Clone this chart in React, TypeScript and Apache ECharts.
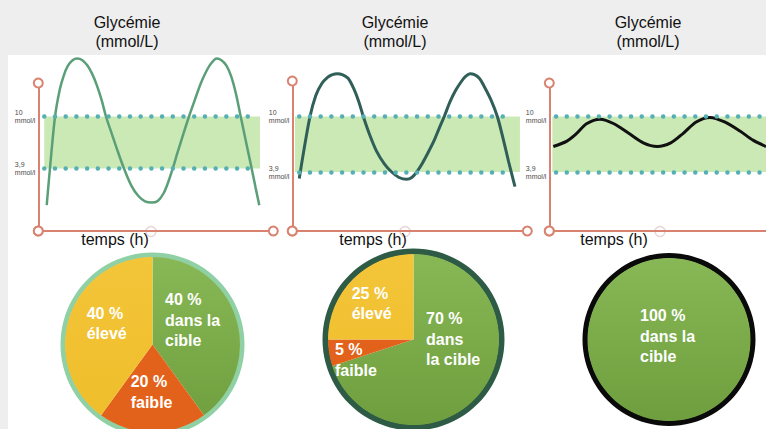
import React, { useEffect, useRef } from "react";
import * as echarts from "echarts";

// ---------- DATA ----------
// Glycemia curves: [time (h), glycemia (mmol/L)]
const curveHigh: number[][] = [
  [0.86, -0.4], [1.19, 3.9], [1.71, 10], [2.2, 13.2], [2.6, 14.8], [3.0, 15.9], [3.5, 16.6], [3.98, 16.8],
  [4.5, 16.6], [5.0, 16.0], [5.5, 15.0], [6.0, 13.6], [6.5, 11.8], [6.91, 10], [7.5, 8.0], [8.0, 6.3],
  [8.75, 3.9], [9.5, 1.9], [10.2, 0.7], [10.9, 0.05], [11.58, -0.1],
  [12.2, 0.1], [12.8, 1.0], [13.3, 2.4], [13.73, 3.9], [14.2, 5.7], [14.8, 7.9], [15.39, 10], [16.0, 12.0],
  [16.6, 13.9], [17.2, 15.4], [17.7, 16.3], [18.22, 16.8],
  [18.7, 16.6], [19.2, 16.0], [19.7, 14.7], [20.2, 12.6], [20.67, 10], [21.2, 7.1], [21.79, 3.9], [22.2, 1.6], [22.57, -0.4],
];
const curveMid: number[][] = [
  [0.71, 3.2], [1.2, 6.4], [1.81, 10], [2.4, 12.3], [3.0, 13.6], [3.6, 14.3], [4.1, 14.6], [4.6, 14.7],
  [5.1, 14.6], [5.7, 14.2], [6.3, 13.0], [6.8, 11.6], [7.25, 10], [7.9, 8.0], [8.6, 6.2], [9.4, 4.8],
  [10.15, 3.9], [10.9, 3.3], [11.68, 3.1],
  [12.2, 3.3], [12.7, 3.9], [13.3, 4.9], [13.9, 6.1], [14.5, 7.4], [15.0, 8.7], [15.52, 10], [16.1, 11.6],
  [16.7, 12.9], [17.3, 13.9], [17.7, 14.4], [18.15, 14.7],
  [18.6, 14.6], [19.1, 14.2], [19.6, 13.3], [20.3, 11.8], [20.94, 10], [21.5, 7.7], [22.1, 5.0], [22.74, 2.3],
];
const curveLow: number[][] = [
  [0.41, 6.7], [1.8, 7.3], [2.8, 8.15], [3.8, 9.2], [5.18, 9.7], [6.6, 9.2], [8.11, 8.15], [9.6, 7.1],
  [11.03, 6.7], [12.4, 7.1], [13.68, 8.15], [15.0, 9.4], [16.41, 9.9], [17.9, 9.4], [19.47, 8.4],
  [20.8, 7.4], [22.13, 6.7],
];
const targetLow = 3.9;
const targetHigh = 10;
const yTickValues = [3.9, 10];
const yTickLabels = ["3,9\nmmol/l", "10\nmmol/l"];
const panelTitle = "Glycémie\n(mmol/L)";
const xAxisTitle = "temps (h)";

// Pies: order = dans la cible, faible, élevé
const pie1Values = [40, 20, 40];
const pie2Values = [70, 5, 25];
const pie3Values = [100];
const pie1Labels = ["dans la\ncible", "faible", "élevé"];
const pie2Labels = ["dans\nla cible", "faible", "élevé"];
const pie3Labels = ["dans la\ncible"];

// ---------- STYLE / LAYOUT ----------
const FONT = "'Liberation Sans', Arial, Helvetica, sans-serif";
const RED = "#d9826f";
const DOT = "#55afb4";
const BAND = "#cbe9b5";

const panels = [
  { left: 38.3, top: 83, width: 235, xMax: 24, endSym: "emptyCircle", yMin: -3.43, yMax: 13.93, band: [0.61, 22.64], dots: [0.61, 22.0], data: curveHigh, color: "#5a9f78", width2: 2.5, titleX: 127, tempsX: 115, ghostX: 151 },
  { left: 292.3, top: 81, width: 235, xMax: 24, endSym: "emptyCircle", yMin: -2.58, yMax: 13.9, band: [0.27, 23.25], dots: [0.71, 22.1], data: curveMid, color: "#2f5f58", width2: 3, titleX: 395, tempsX: 373, ghostX: 405 },
  { left: 549.3, top: 83, width: 216.7, xMax: 22.13, endSym: "none", yMin: -2.58, yMax: 13.68, band: [0.31, 22.13], dots: [0.69, 22.13], data: curveLow, color: "#111111", width2: 3, titleX: 648, tempsX: 614, ghostX: 660 },
];

const pies = [
  { values: pie1Values, labels: pie1Labels, center: [152.5, 344.5], r: 92, ring: 5, ringColor: "#8fd0a5",
    pos: [[165, 320], [130.7, 392], [86.7, 323.7]] },
  { values: pie2Values, labels: pie2Labels, center: [413.5, 339.5], r: 91, ring: 6, ringColor: "#2e5b45",
    pos: [[426, 339.3], [335, 360], [351.7, 303.3]] },
  { values: pie3Values, labels: pie3Labels, center: [669, 339.5], r: 86.5, ring: 5.5, ringColor: "#0a0a0a",
    pos: [[640, 336]] },
];

function sliceColors(cy: number, r: number) {
  const green = { type: "linear", global: true, x: 0, y: cy - r, x2: 0, y2: cy + r,
    colorStops: [{ offset: 0, color: "#89b957" }, { offset: 1, color: "#6d9d3c" }] };
  const orange = "#e3621b";
  const yellow = { type: "linear", global: true, x: 0, y: cy - r, x2: 0, y2: cy + r,
    colorStops: [{ offset: 0, color: "#f3c539" }, { offset: 1, color: "#efbd2a" }] };
  return [green, orange, yellow];
}

function buildOption(): any {
  const grid = panels.map((p) => ({ left: p.left, top: p.top, width: p.width, height: 231 - p.top, containLabel: false }));
  const xAxis = panels.map((p, i) => ({
    type: "value", gridIndex: i, min: 0, max: p.xMax,
    axisLine: { show: true, onZero: false, symbol: ["emptyCircle", p.endSym], symbolSize: [9, 9], lineStyle: { color: RED, width: 2 } },
    axisTick: { show: false }, axisLabel: { show: false }, splitLine: { show: false },
  }));
  const yAxis = panels.map((p, i) => ({
    type: "value", gridIndex: i, min: p.yMin, max: p.yMax,
    axisLine: { show: true, onZero: false, symbol: ["emptyCircle", "emptyCircle"], symbolSize: [9, 9], lineStyle: { color: RED, width: 2 } },
    axisTick: { show: false }, splitLine: { show: false },
    axisLabel: {
      show: true, customValues: yTickValues, align: "left", margin: 23.5,
      fontSize: 7, lineHeight: 8, color: "#4a4a4a", fontFamily: FONT,
      formatter: (v: number) => yTickLabels[yTickValues.findIndex((t) => Math.abs(t - v) < 0.01)] ?? "",
    },
  }));
  const series: any[] = panels.map((p, i) => ({
    type: "line", xAxisIndex: i, yAxisIndex: i, data: p.data, smooth: 0.3, symbol: "none", clip: false,
    lineStyle: { color: p.color, width: p.width2 }, silent: true, z: 3,
    markArea: { silent: true, itemStyle: { color: BAND }, data: [[{ coord: [p.band[0], targetLow] }, { coord: [p.band[1], targetHigh] }]] },
    markLine: {
      silent: true, symbol: "none", label: { show: false },
      lineStyle: { color: DOT, width: 4.5, type: [0.01, 10.7], cap: "round" },
      data: [
        [{ coord: [p.dots[0], targetHigh] }, { coord: [p.dots[1], targetHigh] }],
        [{ coord: [p.dots[0], targetLow] }, { coord: [p.dots[1], targetLow] }],
      ],
    },
  }));
  pies.forEach((pc) => {
    const colors = sliceColors(pc.center[1], pc.r);
    series.push({
      type: "pie", center: pc.center, radius: [pc.r - pc.ring, pc.r], silent: true,
      label: { show: false }, labelLine: { show: false },
      data: [{ value: 1, itemStyle: { color: pc.ringColor } }], z: 1,
    });
    series.push({
      type: "pie", center: pc.center, radius: [0, pc.r - pc.ring + 0.5], startAngle: 90, clockwise: true, silent: true,
      itemStyle: { borderWidth: 0 },
      data: pc.values.map((v, i) => ({ value: v, name: pc.labels[i], itemStyle: { color: colors[i] } })),
      label: {
        show: true, position: "inside", color: "#ffffff", fontSize: 16, fontWeight: "bold", lineHeight: 20.5, fontFamily: FONT,
        formatter: (prm: any) => `${prm.value} %\n${pc.labels[prm.dataIndex]}`,
      },
      labelLine: { show: false },
      labelLayout: (prm: any) => ({ x: pc.pos[prm.dataIndex][0], y: pc.pos[prm.dataIndex][1], align: "left", verticalAlign: "middle" }),
      z: 2,
    });
  });
  const graphic: any[] = [];
  panels.forEach((p) => {
    graphic.push({ type: "text", x: p.titleX, y: 32.2, silent: true,
      style: { text: panelTitle, fontSize: 16, fontFamily: FONT, fill: "#111", align: "center", verticalAlign: "middle", textAlign: "center", textVerticalAlign: "middle", lineHeight: 19 } });
    graphic.push({ type: "text", x: p.tempsX, y: 239, silent: true, z: 10,
      style: { text: xAxisTitle, fontSize: 16, fontFamily: FONT, fill: "#111", align: "center", verticalAlign: "middle", textAlign: "center", textVerticalAlign: "middle" } });
    graphic.push({ type: "circle", shape: { cx: p.ghostX, cy: 231.5, r: 5 }, silent: true,
      style: { fill: "none", stroke: "#e6d6d6", lineWidth: 1.5 } });
  });
  return { animation: false, grid, xAxis, yAxis, series, graphic };
}

export default function App() {
  const ref = useRef<HTMLDivElement>(null);
  useEffect(() => {
    const chart = echarts.init(ref.current!, null, { renderer: "svg" });
    chart.setOption(buildOption());
    return () => chart.dispose();
  }, []);
  return (
    <div style={{ position: "fixed", left: 0, top: 0, width: 766, height: 429, background: "#eeeeee", overflow: "hidden" }}>
      <div style={{ position: "absolute", left: 8, top: 55, right: 0, bottom: 0, background: "#ffffff" }} />
      <div ref={ref} style={{ position: "absolute", left: 0, top: 0, width: 766, height: 429 }} />
    </div>
  );
}
